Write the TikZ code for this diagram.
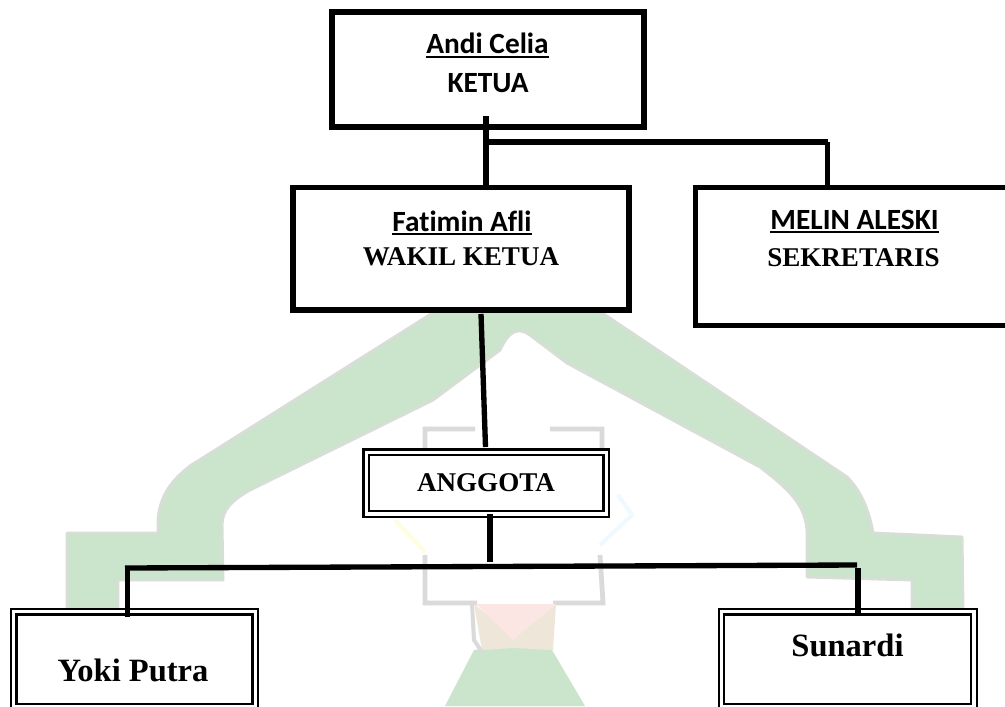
\documentclass[tikz,border=0pt]{standalone}
\usepackage{fontspec}
\setmainfont{Liberation Serif}
\newfontfamily\carlitofont[Ligatures=NoCommon]{Carlito}
\newcommand\ulbox[1]{\setbox0\hbox{#1}\rlap{\rule[-3.3pt]{\wd0}{1.5pt}}\box0}
\definecolor{wmgreen}{HTML}{CBE4CC}
\definecolor{wmedge}{HTML}{D6DED6}
\definecolor{wmgrey}{HTML}{DADADA}
\definecolor{wmtan}{HTML}{EFE6DA}
\definecolor{wmpink}{HTML}{FBE6E4}
\tikzset{
  thickbox/.style={draw=black,line width=4.4pt,fill=white,inner sep=0pt,outer sep=0pt},
  dblbox/.style={draw=black,line width=1.7pt,double=white,double distance=2.4pt,inner sep=0pt,outer sep=0pt},
  link/.style={draw=black,line width=4pt},
  calname/.style={inner sep=0pt,anchor=base,font=\carlitofont\bfseries\fontsize{22}{26}\selectfont},
  serlabel/.style={inner sep=0pt,anchor=base,font=\bfseries\fontsize{20.3}{24}\selectfont},
  serbig/.style={inner sep=0pt,anchor=base,font=\bfseries\fontsize{24.4}{28}\selectfont},
}
\begin{document}
\begin{tikzpicture}[x=0.75pt,y=-0.75pt]
\useasboundingbox (0,0) rectangle (1005,706);
\clip (0,0) rectangle (1005,706);
% watermark
\fill[white] (0,0) rectangle (1005,706);
\draw[wmedge,line width=2.2pt,fill=wmgreen,line join=round]
  (67,608) -- (67,533) -- (158,533) -- (158,520)
  .. controls (160,495) and (172,480) .. (190,466)
  -- (520,258) -- (847,477)
  .. controls (858,488) and (868,505) .. (873,533)
  -- (962,537) -- (963,608) -- (912,608) -- (912,580) -- (807,577) -- (807,530)
  .. controls (805,505) and (790,490) .. (760,467)
  -- (567,363) -- (530,335) .. controls (520,328) and (510,328) .. (500,350)
  -- (433,400) -- (250,490)
  .. controls (232,500) and (222,510) .. (222,525)
  -- (223,580) -- (118,580) -- (118,608) -- cycle;
\draw[wmgrey,line width=3.6pt]
  (475,429) -- (425,429) -- (425,452)
  (550,429) -- (602,429) -- (602,452)
  (425,555) -- (425,603) -- (477,603)
  (600,555) -- (603,603) -- (553,603);
\draw[yellow!12,line width=3pt] (395,520) -- (425,552);
\draw[cyan!6,line width=3pt] (618,495) -- (632,515) -- (600,545);
\fill[wmgreen] (474,650) -- (513,645) -- (552,650) -- (585,706) -- (445,706) -- cycle;
\fill[wmtan] (474,604) -- (513,636) -- (556,604) -- (553,650) -- (513,648) -- (482,650) -- cycle;
\fill[wmpink] (476,604) -- (513,640) -- (556,604) -- cycle;
\draw[wmgrey,line width=3pt] (472,604) -- (474,640) -- (482,652);
% boxes
\node[thickbox,minimum width=234pt,minimum height=86.25pt] (ketua) at (488,69.5) {};
\node[thickbox,minimum width=252pt,minimum height=91.9pt] (wakil) at (461,248.75) {};
\node[thickbox,minimum width=237.4pt,minimum height=103.5pt] (sekr) at (853.75,256.5) {};
\node[dblbox,minimum width=180pt,minimum height=46.3pt] (angg) at (486.25,483.1) {};
\node[dblbox,minimum width=181.1pt,minimum height=71.25pt] (yoki) at (134.5,659.25) {};
\node[dblbox,minimum width=189.4pt,minimum height=71.25pt] (sun) at (847.75,659.25) {};
% connector end points
\coordinate (ketuaB) at (486,116);
\coordinate (fork) at (486,142);
\coordinate (sekrC) at (827.5,142);
\coordinate (wakilB) at (481,314);
\coordinate (anggT) at (485.5,447);
\coordinate (anggB) at (490,514);
\coordinate (anggD) at (490,562);
\coordinate (busL) at (125,568);
\coordinate (busR) at (857,565);
\coordinate (yokiC) at (127.5,566);
\coordinate (yokiT) at (127.5,617);
\coordinate (sunC) at (858,568);
\coordinate (sunT) at (858,616);
% connectors
\draw[link] (ketuaB) -- (fork |- wakil.north);
\draw[link] (fork) -- (sekrC);
\draw[link] (sekrC) -- (sekrC |- sekr.north);
\draw[link] (wakilB) -- (anggT);
\draw[link] (anggB) -- (anggD);
\draw[link] (busL) -- (busR);
\draw[link] (yokiC) -- (yokiT);
\draw[link] (sunC) -- (sunT);
% labels
\node[calname] (n1) at (487.5,54) {\ulbox{Andi Celia}};
\node[calname] (n2) at (488,93) {KETUA};
\node[calname] (n3) at (462,231) {\ulbox{Fatimin Afli}};
\node[serlabel] (n4) at (461,265.5) {WAKIL KETUA};
\node[calname] (n5) at (854.5,229) {\ulbox{MELIN ALESKI}};
\node[serlabel] (n6) at (853.5,266) {SEKRETARIS};
\node[serlabel] (n7) at (486,491.5) {ANGGOTA};
\node[serbig] (n8) at (133,681) {Yoki Putra};
\node[serbig] (n9) at (847.5,656) {Sunardi};
\end{tikzpicture}
\end{document}
